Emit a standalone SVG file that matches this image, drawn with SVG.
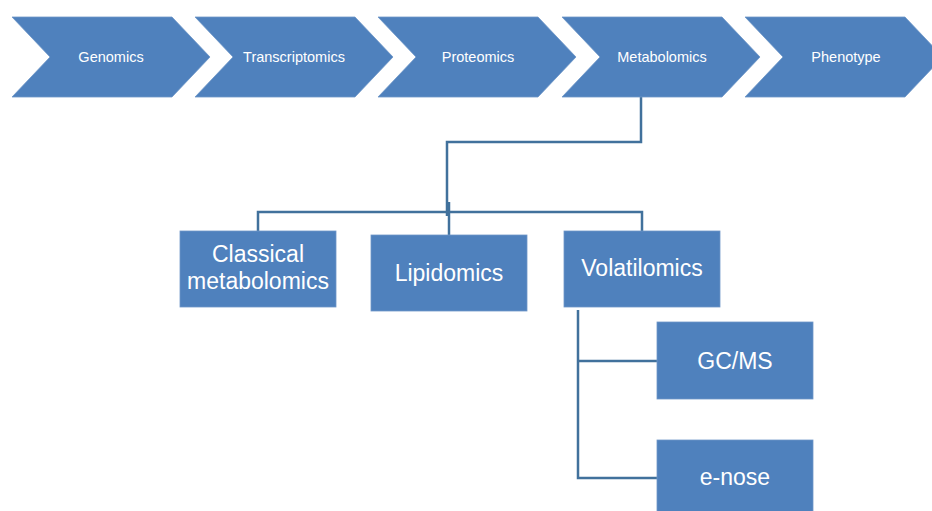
<svg xmlns="http://www.w3.org/2000/svg" width="932" height="511" viewBox="0 0 932 511">
<style>
.shape{fill:#4F81BD;stroke:#6f97c8;stroke-width:0.8}
.t1{font-family:"Liberation Sans",Arial,sans-serif;font-size:14.5px;fill:#ffffff;text-anchor:middle}
.t2{font-family:"Liberation Sans",Arial,sans-serif;font-size:23px;fill:#ffffff;text-anchor:middle}
.conn{fill:none;stroke:#41719C;stroke-width:2.5}
</style>
<defs>
<polygon id="chev" points="0,0 160,0 198,40 160,80 0,80 38,40"/>
</defs>
<rect width="932" height="511" fill="#ffffff"/>
<g id="connectors">
<polyline class="conn" points="641,97 641,142 447,142 447,216"/>
<line class="conn" x1="449" y1="202" x2="449" y2="235"/>
<polyline class="conn" points="258,231 258,212 642,212 642,231"/>
<polyline class="conn" points="578,310 578,478 657,478"/>
<line class="conn" x1="578" y1="361" x2="657" y2="361"/>
</g>
<g id="genomics">
<use href="#chev" x="12" y="17" class="shape"/>
<text class="t1" x="111" y="62">Genomics</text>
</g>
<g id="transcriptomics">
<use href="#chev" x="195" y="17" class="shape"/>
<text class="t1" x="294" y="62">Transcriptomics</text>
</g>
<g id="proteomics">
<use href="#chev" x="378" y="17" class="shape"/>
<text class="t1" x="478" y="62">Proteomics</text>
</g>
<g id="metabolomics">
<use href="#chev" x="562" y="17" class="shape"/>
<text class="t1" x="662" y="62">Metabolomics</text>
</g>
<g id="phenotype">
<use href="#chev" x="745" y="17" class="shape"/>
<text class="t1" x="846" y="62">Phenotype</text>
</g>
<g id="classical">
<rect class="shape" x="180" y="231" width="156" height="76"/>
<text class="t2" x="258" y="262">Classical</text>
<text class="t2" x="258" y="289">metabolomics</text>
</g>
<g id="lipidomics">
<rect class="shape" x="371" y="235" width="156" height="76"/>
<text class="t2" x="449" y="281">Lipidomics</text>
</g>
<g id="volatilomics">
<rect class="shape" x="564" y="231" width="156" height="76"/>
<text class="t2" x="642" y="276">Volatilomics</text>
</g>
<g id="gcms">
<rect class="shape" x="657" y="322" width="156" height="77"/>
<text class="t2" x="735" y="369">GC/MS</text>
</g>
<g id="enose">
<rect class="shape" x="657" y="440" width="156" height="77"/>
<text class="t2" x="735" y="485">e-nose</text>
</g>
</svg>
